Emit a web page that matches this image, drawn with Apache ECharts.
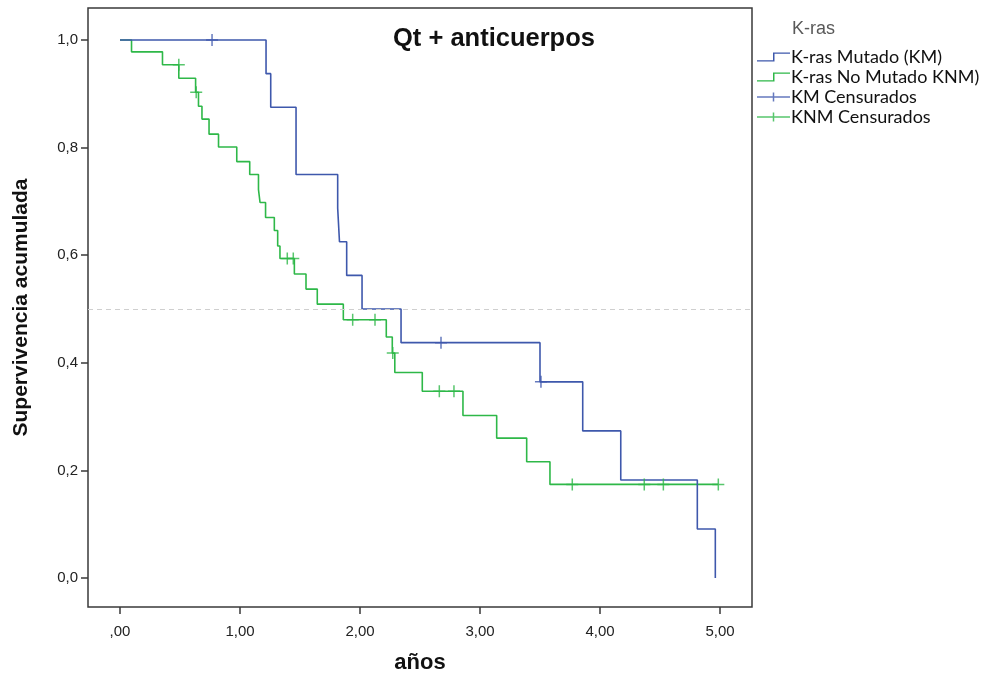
<!DOCTYPE html>
<html>
<head>
<meta charset="utf-8">
<script src="https://cdn.jsdelivr.net/npm/echarts@6/dist/echarts.min.js"></script>
<style>
html,body{margin:0;padding:0;background:#fff;}
#chart{width:986px;height:677px;}
</style>
</head>
<body>
<div id="chart"></div>
<script>
// K-ras Mutado (KM): event times (años) and cumulative survival after each step
const kmTimes = [0, 1.217, 1.256, 1.467, 1.814, 1.829, 1.889, 2.017, 2.342, 3.500, 3.856, 4.173, 4.811, 4.961];
const kmSurv  = [1.0, 0.9375, 0.875, 0.75, 0.6875, 0.625, 0.5625, 0.5, 0.4375, 0.3646, 0.2734, 0.1823, 0.0911, 0.0];
const kmCensTimes = [0.767, 2.675, 3.508];
const kmCensSurv  = [1.0, 0.4375, 0.3646];

// K-ras No Mutado (KNM)
const knmTimes = [0, 0.096, 0.354, 0.490, 0.630, 0.654, 0.683, 0.742, 0.821, 0.973, 1.081, 1.154, 1.167, 1.213, 1.286, 1.314, 1.333, 1.453, 1.550, 1.644, 1.861, 2.219, 2.269, 2.290, 2.519, 2.858, 3.139, 3.389, 3.583, 4.986];
const knmSurv  = [1.0, 0.978, 0.954, 0.929, 0.903, 0.877, 0.853, 0.825, 0.801, 0.774, 0.750, 0.722, 0.698, 0.670, 0.646, 0.617, 0.594, 0.565, 0.537, 0.509, 0.480, 0.448, 0.418, 0.382, 0.347, 0.302, 0.260, 0.216, 0.174, 0.174];
const knmCensTimes = [0.490, 0.635, 1.394, 1.444, 1.939, 2.125, 2.273, 2.661, 2.783, 3.769, 4.369, 4.528, 4.986];
const knmCensSurv  = [0.954, 0.903, 0.594, 0.594, 0.480, 0.480, 0.418, 0.347, 0.347, 0.174, 0.174, 0.174, 0.174];

const xTicks = [0, 1, 2, 3, 4, 5];
const yTicks = [0, 0.2, 0.4, 0.6, 0.8, 1.0];

const seriesNames = ['K-ras Mutado (KM)', 'K-ras No Mutado KNM)', 'KM Censurados', 'KNM Censurados'];
const chartTitle = 'Qt + anticuerpos';
const legendTitle = 'K-ras';
const xName = 'años';
const yName = 'Supervivencia acumulada';

const BLUE = '#3E58AC';
const GREEN = '#2EB848';
const FRAME = '#3a3a3a';

const zip = (a, b) => a.map((v, i) => [v, b[i]]);
const plus = 'path://M5.25,0 H6.75 V5.25 H12 V6.75 H6.75 V12 H5.25 V6.75 H0 V5.25 H5.25 Z';
const stepIcon = 'path://M0,8.5 H16 V0 H33 V1.5 H17.5 V10 H0 Z';
const censIcon = 'path://M0,4.25 H15.75 V0 H17.25 V4.25 H33 V5.75 H17.25 V10 H15.75 V5.75 H0 Z';

const chart = echarts.init(document.getElementById('chart'), null, {renderer: 'canvas'});
chart.setOption({
  animation: false,
  backgroundColor: '#fff',
  title: [
    {text: chartTitle, left: 388, top: 21, textStyle: {fontFamily: 'Liberation Sans', fontWeight: 'bold', fontSize: 25.5, color: '#111'}},
    {text: legendTitle, left: 787, top: 15, textStyle: {fontFamily: 'Liberation Sans', fontWeight: 'normal', fontSize: 18, color: '#595959'}}
  ],
  legend: {
    orient: 'vertical', left: 757, top: 48, padding: 0, itemGap: 2, itemWidth: 33, itemHeight: 9,
    symbolKeepAspect: false,
    textStyle: {fontFamily: 'Lato', fontSize: 18, color: '#111', padding: [0, 0, 0, -4]},
    data: [
      {name: seriesNames[0], icon: stepIcon},
      {name: seriesNames[1], icon: stepIcon},
      {name: seriesNames[2], icon: censIcon},
      {name: seriesNames[3], icon: censIcon}
    ]
  },
  grid: {left: 88, top: 8, width: 664, height: 599, show: true, borderColor: FRAME, borderWidth: 1.5,
    containLabel: false, outerBoundsMode: 'none'},
  xAxis: {
    type: 'value', min: -0.2667, max: 5.2667,
    name: xName, nameLocation: 'middle', nameGap: 45,
    nameTextStyle: {fontFamily: 'Liberation Sans', fontWeight: 'bold', fontSize: 22, color: '#111'},
    axisLine: {show: false, onZero: false},
    axisTick: {show: true, inside: false, length: 7, customValues: xTicks, lineStyle: {color: FRAME, width: 1.5}},
    axisLabel: {customValues: xTicks, margin: 17, fontFamily: 'Liberation Sans', fontSize: 15, color: '#222',
      formatter: v => v === 0 ? ',00' : v.toFixed(2).replace('.', ',')},
    splitLine: {show: false}
  },
  yAxis: {
    type: 'value', min: -0.0539, max: 1.0595,
    name: yName, nameLocation: 'middle', nameGap: 56,
    nameTextStyle: {fontFamily: 'Liberation Sans', fontWeight: 'bold', fontSize: 21, color: '#111'},
    axisLine: {show: false, onZero: false},
    axisTick: {show: true, inside: false, length: 7, customValues: yTicks, lineStyle: {color: FRAME, width: 1.5}},
    axisLabel: {customValues: yTicks, margin: 10, fontFamily: 'Liberation Sans', fontSize: 15, color: '#222',
      formatter: v => v.toFixed(1).replace('.', ',')},
    splitLine: {show: false}
  },
  series: [
    {
      name: seriesNames[0], type: 'line', step: 'end', showSymbol: false, symbol: 'none',
      data: zip(kmTimes, kmSurv), lineStyle: {color: BLUE, width: 1.6}, itemStyle: {color: BLUE}, z: 3,
      markLine: {silent: true, symbol: 'none', label: {show: false},
        lineStyle: {color: '#cfcfcf', type: [5, 4], width: 1}, data: [{yAxis: 0.5}]}
    },
    {
      name: seriesNames[1], type: 'line', step: 'end', showSymbol: false, symbol: 'none',
      data: zip(knmTimes, knmSurv), lineStyle: {color: GREEN, width: 1.6}, itemStyle: {color: GREEN}, z: 2
    },
    {
      name: seriesNames[2], type: 'scatter', symbol: plus, symbolSize: 12,
      data: zip(kmCensTimes, kmCensSurv), itemStyle: {color: BLUE}, z: 4
    },
    {
      name: seriesNames[3], type: 'scatter', symbol: plus, symbolSize: 12,
      data: zip(knmCensTimes, knmCensSurv), itemStyle: {color: GREEN}, z: 4
    }
  ]
});
</script>
</body>
</html>
